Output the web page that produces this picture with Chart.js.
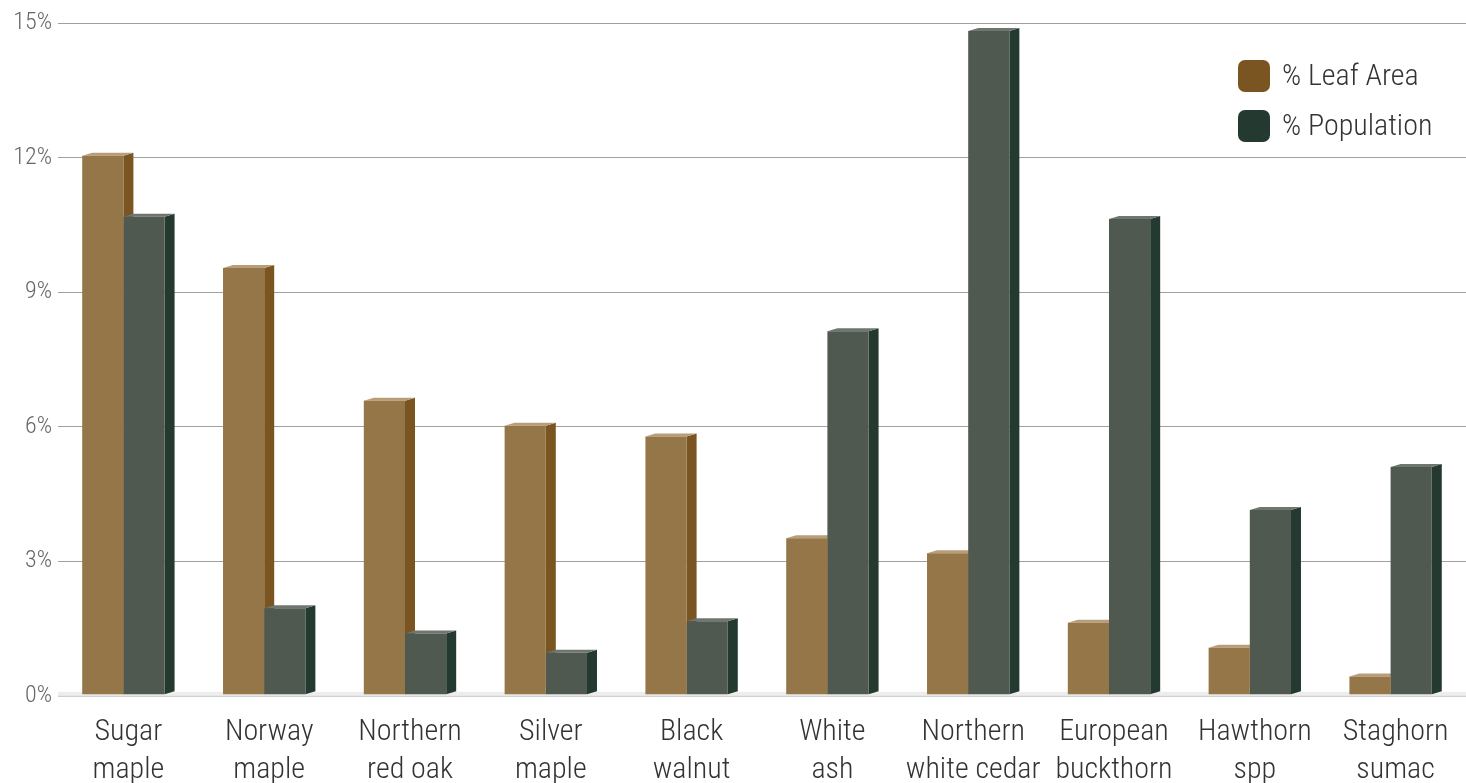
<!DOCTYPE html>
<html>
<head>
<meta charset="utf-8">
<script src="https://cdn.jsdelivr.net/npm/chart.js@4/dist/chart.umd.min.js"></script>
<style>
	html, body { margin: 0; padding: 0; background: #fff; overflow: hidden; }
	#wrap { width: 1466px; height: 800px; position: relative; }
</style>
</head>
<body>
<div id="wrap"><canvas id="treeChart"></canvas></div>
<script>
const species = [
	['Sugar', 'maple'], ['Norway', 'maple'], ['Northern', 'red oak'], ['Silver', 'maple'],
	['Black', 'walnut'], ['White', 'ash'], ['Northern', 'white cedar'], ['European', 'buckthorn'],
	['Hawthorn', 'spp'], ['Staghorn', 'sumac']
];
const leafArea = [12.04, 9.54, 6.58, 6.02, 5.78, 3.51, 3.18, 1.63, 1.07, 0.43];
const population = [10.68, 1.95, 1.39, 0.96, 1.66, 8.13, 14.82, 10.63, 4.14, 5.10];
const yTicks = [0, 3, 6, 9, 12, 15];

const FONT = "'Roboto Condensed', 'Liberation Sans Narrow', 'DejaVu Sans Condensed', sans-serif";
const depthX = 10;
const depthY = 3;

// side and top faces so the bars look like boxes
const boxFaces = {
	id: 'boxFaces',
	afterDatasetsUpdate(chart) {
		// center the whole box (front + side) in its category
		chart.data.datasets.forEach((ds, i) => {
			chart.getDatasetMeta(i).data.forEach(bar => { bar.x -= depthX / 2; });
		});
	},
	beforeDatasetsDraw(chart) {
		const ctx = chart.ctx;
		const area = chart.chartArea;
		ctx.save();
		ctx.fillStyle = '#ededed';
		ctx.fillRect(area.left, area.bottom - 4, area.right - area.left, 4);
		chart.data.datasets.forEach((ds, i) => {
			const meta = chart.getDatasetMeta(i);
			meta.data.forEach(bar => {
				const left = bar.x - bar.width / 2;
				const right = bar.x + bar.width / 2;
				const top = bar.y;
				const base = bar.base;
				ctx.fillStyle = ds.sideColor;
				ctx.beginPath();
				ctx.moveTo(right, top);
				ctx.lineTo(right + depthX, top - depthY);
				ctx.lineTo(right + depthX, base - depthY);
				ctx.lineTo(right, base);
				ctx.closePath();
				ctx.fill();
				ctx.fillStyle = ds.topColor;
				ctx.beginPath();
				ctx.moveTo(left, top);
				ctx.lineTo(left + depthX, top - depthY);
				ctx.lineTo(right + depthX, top - depthY);
				ctx.lineTo(right, top);
				ctx.closePath();
				ctx.fill();
			});
		});
		ctx.restore();
	}
};

const boxLegend = {
	id: 'boxLegend',
	afterDraw(chart) {
		const ctx = chart.ctx;
		ctx.save();
		chart.data.datasets.forEach((ds, i) => {
			const y = 60 + i * 50;
			ctx.fillStyle = ds.sideColor;
			ctx.beginPath();
			ctx.roundRect(1238, y, 32, 32, 7);
			ctx.fill();
			ctx.fillStyle = '#333';
			ctx.font = '300 30px ' + FONT;
			ctx.textBaseline = 'middle';
			ctx.fillText(ds.label, 1282, y + 17);
		});
		ctx.restore();
	}
};

const ctx = document.getElementById('treeChart').getContext('2d');

new Chart(ctx, {
	type: 'bar',
	data: {
		labels: species,
		datasets: [{
			label: '% Leaf Area',
			data: leafArea,
			backgroundColor: '#957649',
			sideColor: '#7a5521',
			topColor: '#b79e78',
			borderWidth: 0
		}, {
			label: '% Population',
			data: population,
			backgroundColor: '#4f5950',
			sideColor: '#243a30',
			topColor: '#6e766f',
			borderWidth: 0
		}]
	},
	options: {
		responsive: true,
		maintainAspectRatio: false,
		animation: false,
		layout: { padding: { top: 23, right: 0, left: 0, bottom: 0 } },
		datasets: { bar: { barPercentage: 1, categoryPercentage: 0.585 } },
		plugins: { legend: { display: false }, tooltip: { enabled: false } },
		scales: {
			x: {
				grid: { display: false },
				border: { display: false },
				ticks: {
					color: '#333',
					padding: 10,
					maxRotation: 0,
					font: { family: FONT, size: 30, weight: 300, lineHeight: 1.27 }
				}
			},
			y: {
				min: 0,
				max: 15,
				afterBuildTicks: axis => { axis.ticks = yTicks.map(v => ({ value: v })); },
				afterFit: axis => { axis.width = 58; },
				border: { display: false },
				grid: {
					drawTicks: false,
					color: c => c.tick.value === 0 ? '#cfcfcf' : '#a0a0a0',
					lineWidth: c => c.tick.value === 0 ? 3 : 1
				},
				ticks: {
					color: '#666',
					padding: 6,
					callback: v => v + '%',
					font: { family: FONT, size: 24, weight: 300 }
				}
			}
		}
	},
	plugins: [boxFaces, boxLegend]
});
</script>
</body>
</html>
